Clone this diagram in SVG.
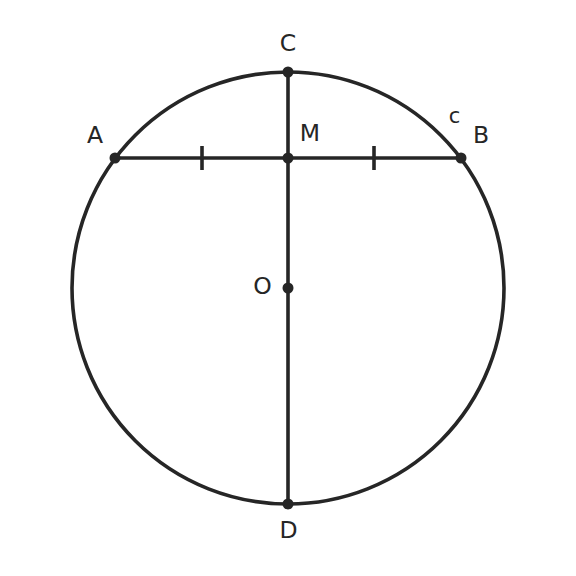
<svg xmlns="http://www.w3.org/2000/svg" width="576" height="576" viewBox="0 0 576 576">
<style>
.ln{stroke:#262626;stroke-width:3.6;fill:none;stroke-linecap:butt}
.pt{fill:#262626}
.lb{font-family:"DejaVu Sans",sans-serif;font-size:23.5px;fill:#262626;text-anchor:middle}
.sm{font-family:"DejaVu Sans",sans-serif;font-size:21px;fill:#262626;text-anchor:middle}
</style>
<rect width="576" height="576" fill="#ffffff"/>
<g id="connectors">
<circle class="ln" cx="288" cy="288" r="216"/>
<line class="ln" x1="115" y1="158" x2="461" y2="158"/>
<line class="ln" x1="288" y1="72" x2="288" y2="504"/>
<line class="ln" x1="202" y1="146" x2="202" y2="170"/>
<line class="ln" x1="374" y1="146" x2="374" y2="170"/>
</g>
<g id="C"><circle class="pt" cx="288" cy="72" r="5.5"/><text class="lb" x="288" y="51">C</text></g>
<g id="D"><circle class="pt" cx="288" cy="504" r="5.5"/><text class="lb" x="288.5" y="537.5">D</text></g>
<g id="A"><circle class="pt" cx="115" cy="158" r="5.5"/><text class="lb" x="95" y="143">A</text></g>
<g id="B"><circle class="pt" cx="461" cy="158" r="5.5"/><text class="lb" x="481" y="143">B</text></g>
<g id="M"><circle class="pt" cx="288" cy="158" r="5.5"/><text class="lb" x="310" y="141">M</text></g>
<g id="O"><circle class="pt" cx="288" cy="288" r="5.5"/><text class="lb" x="262.5" y="294">O</text></g>
<g id="c-label"><text class="sm" x="454.5" y="123">c</text></g>
</svg>
